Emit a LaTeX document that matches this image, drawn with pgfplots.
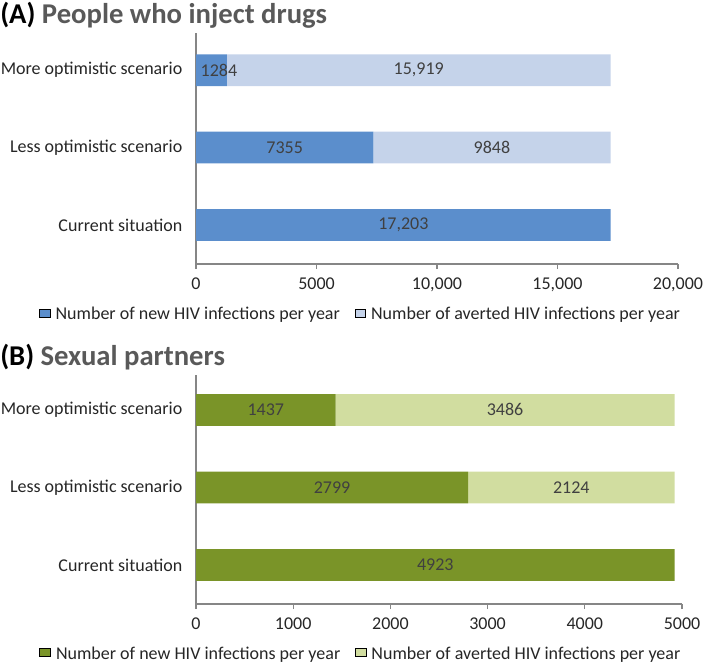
\documentclass[border=0pt]{standalone}
\usepackage{pgfplots}
\pgfplotsset{compat=1.18}
\usepackage{fontspec}
\setmainfont{Carlito}
\definecolor{bdark}{RGB}{91,142,204}
\definecolor{blight}{RGB}{197,211,234}
\definecolor{gdark}{RGB}{122,148,40}
\definecolor{glight}{RGB}{209,221,160}
\definecolor{axgray}{RGB}{134,134,134}
\definecolor{titlegray}{RGB}{89,89,89}
\definecolor{lblgray}{RGB}{64,64,64}
\newcommand{\fs}{\fontsize{13.5}{16}\selectfont}
\pgfplotsset{
  base/.style={
    scale only axis,
    /pgf/number format/assume math mode=true,
    scaled x ticks=false,
    axis x line*=bottom, axis y line*=left,
    axis line style={axgray, line width=0.9pt},
    tick align=outside,
    xtick pos=bottom,
    major tick length=3.75pt,
    x tick style={axgray, line width=0.9pt},
    y tick style={draw=none},
    ytick={0,1,2},
    yticklabels={Current situation, Less optimistic scenario, More optimistic scenario},
    ticklabel style={font=\fs, text=black!85},
    yticklabel style={xshift=-3pt},
    xticklabel style={yshift=-3pt},
    ymin=-0.503,
    legend columns=2,
    legend style={draw=none, font=\fs, text=black!85, inner sep=0pt,
      /tikz/every odd column/.append style={column sep=2pt},
      /tikz/every even column/.append style={column sep=9pt}},
    legend image code/.code={\fill[##1, draw=none] (0pt,-3pt) rectangle (6pt,3pt);},
    xbar stacked, bar width=0.41,
  },
  lbl/.style={
    scale only axis, hide axis, ymin=-0.503,
  },
}
\pgfplotstableread{
y new avert
0 17203 0
1 7355 9848
2 1284 15919
}\dataA
\pgfplotstableread{
x y label
8601.5 0 {17,203}
3677.5 1 7355
12279 1 9848
950 2 1284
9243.5 2 {15,919}
}\labelsA
\pgfplotstableread{
y new avert
0 4923 0
1 2799 2124
2 1437 3486
}\dataB
\pgfplotstableread{
x y label
2461.5 0 4923
1399.5 1 2799
3861 1 2124
718.5 2 1437
3180 2 3486
}\labelsB
\begin{document}
\begin{tikzpicture}
\useasboundingbox (0pt,0pt) rectangle (531.75pt,-497.25pt);
\coordinate (OA) at (147pt,-198pt);
\coordinate (OB) at (147pt,-453pt);
\node[anchor=west, inner sep=0pt, font=\fontsize{21.5}{24}\selectfont\bfseries] at (0pt,-11.5pt) {(A) \textcolor{titlegray}{People who inject drugs}};
\node[anchor=west, inner sep=0pt, font=\fontsize{21.5}{24}\selectfont\bfseries] at (0pt,-268pt) {(B) \textcolor{titlegray}{Sexual partners}};
% Panel A
\begin{axis}[base, at={(OA)}, anchor=south west,
  width=361.5pt, height=173.25pt,
  xmin=0, xmax=20000, ymax=2.48,
  xtick={0,5000,10000,15000,20000},
  xticklabels={0,5000,{10,000},{15,000},{20,000}},
  legend style={at={(0.342,-0.218)}, anchor=center}]
\addplot[fill=bdark, draw=none] table[x=new, y=y] {\dataA};
\addplot[fill=blight, draw=none] table[x=avert, y=y] {\dataA};
\legend{Number of new HIV infections per year, Number of averted HIV infections per year}
\end{axis}
\begin{axis}[lbl, at={(OA)}, anchor=south west,
  width=361.5pt, height=173.25pt, xmin=0, xmax=20000, ymax=2.48]
\addplot[draw=none, mark=none, nodes near coords, point meta=explicit symbolic,
  every node near coord/.append style={anchor=center, text=lblgray, font=\fs}]
  table[x=x, y=y, meta=label] {\labelsA};
\end{axis}
% Panel B
\begin{axis}[base, at={(OB)}, anchor=south west,
  width=364.5pt, height=171.75pt,
  xmin=0, xmax=5000, ymax=2.45,
  xtick={0,1000,2000,3000,4000,5000},
  xticklabels={0,1000,2000,3000,4000,5000},
  legend style={at={(0.34,-0.218)}, anchor=center}]
\addplot[fill=gdark, draw=none] table[x=new, y=y] {\dataB};
\addplot[fill=glight, draw=none] table[x=avert, y=y] {\dataB};
\legend{Number of new HIV infections per year, Number of averted HIV infections per year}
\end{axis}
\begin{axis}[lbl, at={(OB)}, anchor=south west,
  width=364.5pt, height=171.75pt, xmin=0, xmax=5000, ymax=2.45]
\addplot[draw=none, mark=none, nodes near coords, point meta=explicit symbolic,
  every node near coord/.append style={anchor=center, text=lblgray, font=\fs}]
  table[x=x, y=y, meta=label] {\labelsB};
\end{axis}
\end{tikzpicture}
\end{document}
